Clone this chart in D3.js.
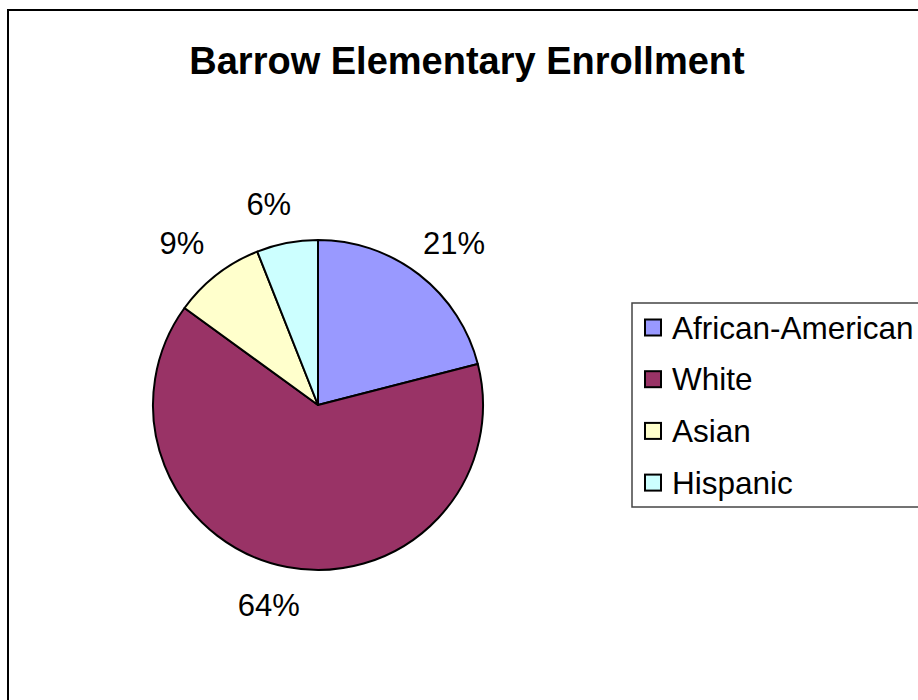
<!DOCTYPE html>
<html>
<head>
<meta charset="utf-8">
<script src="https://cdn.jsdelivr.net/npm/d3@7"></script>
<style>
  html, body { margin: 0; padding: 0; background: #fff; }
  svg { display: block; }
  text { font-family: "Liberation Sans", Arial, sans-serif; }
</style>
</head>
<body>
<svg id="chart" width="918" height="700"></svg>
<script>
// Enrollment shares by group (percent)
const categories = ["African-American", "White", "Asian", "Hispanic"];
const shares = [21, 64, 9, 6];
const colors = ["#9999FF", "#993366", "#FFFFCC", "#CCFFFF"];
const title = "Barrow Elementary Enrollment";

const svg = d3.select("#chart");
const W = 918, H = 700;

// chart area frame (runs off the right and bottom edges)
svg.append("rect")
  .attr("x", 8).attr("y", 10)
  .attr("width", W + 20).attr("height", H + 20)
  .attr("fill", "#fff")
  .attr("stroke", "#000")
  .attr("stroke-width", 2);

svg.append("text")
  .attr("x", 467).attr("y", 74)
  .attr("text-anchor", "middle")
  .attr("font-size", 38)
  .attr("font-weight", "bold")
  .text(title);

// pie
const cx = 318, cy = 405, radius = 165;
const pie = d3.pie().sort(null).value(d => d)(shares);
const arc = d3.arc().innerRadius(0).outerRadius(radius);
const color = d3.scaleOrdinal().domain(categories).range(colors);

const g = svg.append("g").attr("transform", `translate(${cx},${cy})`);
g.selectAll("path.slice")
  .data(pie)
  .join("path")
  .attr("class", "slice")
  .attr("d", arc)
  .attr("fill", (d, i) => color(categories[i]))
  .attr("stroke", "#000")
  .attr("stroke-width", 2)
  .attr("stroke-linejoin", "round");

// percentage labels outside the slices, pushed sideways away from the pie
const labelR = 204;
const mid = d => (d.startAngle + d.endAngle) / 2;
g.selectAll("text.pct")
  .data(pie)
  .join("text")
  .attr("class", "pct")
  .attr("x", d => labelR * Math.sin(mid(d)) + 11 * Math.sign(Math.sin(mid(d))))
  .attr("y", d => -labelR * Math.cos(mid(d)) + 10.5)
  .attr("text-anchor", "middle")
  .attr("font-size", 31)
  .text(d => d.data + "%");

// legend
const lx = 632, ly = 303, rowH = 51.7;
svg.append("rect")
  .attr("x", lx).attr("y", ly)
  .attr("width", W - lx + 10).attr("height", 204)
  .attr("fill", "#fff")
  .attr("stroke", "#444")
  .attr("stroke-width", 1.5);

const rows = svg.append("g").selectAll("g")
  .data(categories)
  .join("g")
  .attr("transform", (d, i) => `translate(${lx}, ${ly + 24.5 + i * rowH})`);

rows.append("rect")
  .attr("x", 13).attr("y", -8)
  .attr("width", 16).attr("height", 16)
  .attr("fill", d => color(d))
  .attr("stroke", "#000")
  .attr("stroke-width", 2);

rows.append("text")
  .attr("x", 40).attr("y", 11)
  .attr("font-size", 31.5)
  .text(d => d);
</script>
</body>
</html>
